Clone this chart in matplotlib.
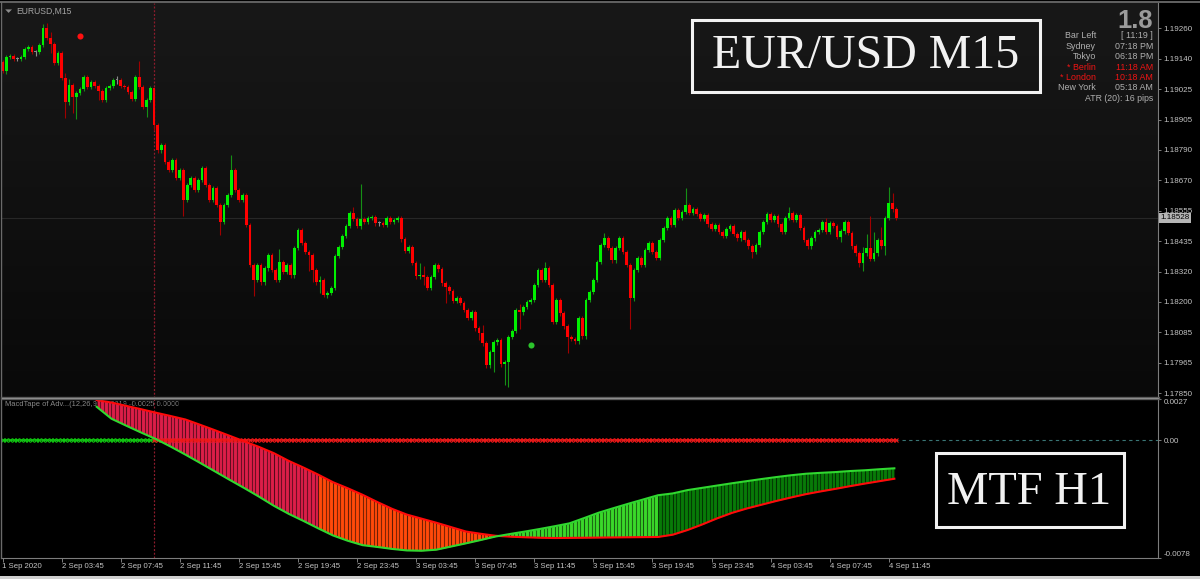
import numpy as np
import matplotlib
matplotlib.use("Agg")
import matplotlib.pyplot as plt
from matplotlib.patches import Rectangle, Polygon
from matplotlib.lines import Line2D
from matplotlib.colors import LinearSegmentedColormap

plt.rcParams['font.family'] = ['Liberation Sans', 'DejaVu Sans']

W, H = 1200, 579

# ---------------- data ----------------
# M15 candles, prices as pips above BASE; open = previous close
BASE = 1.17800
first_open = 132.9
closes = [
    129.5, 134.9, 135.3, 134.1, 134.1, 134.9, 138.0, 138.8, 136.8, 136.8,
    139.5, 146.1, 142.2, 139.9, 132.6, 136.4, 126.8, 117.5, 124.1, 119.4,
    121.0, 122.5, 127.2, 123.3, 125.2, 123.7, 121.8, 118.3, 122.9, 123.7,
    126.0, 126.0, 123.7, 123.3, 121.4, 118.7, 127.2, 123.3, 115.6, 118.3,
    122.9, 108.6, 98.9, 100.9, 94.3, 91.2, 95.1, 88.1, 91.2, 79.6,
    85.4, 88.1, 83.5, 87.4, 92.0, 85.4, 79.6, 84.3, 77.7, 71.1,
    77.7, 81.6, 91.2, 83.5, 79.6, 81.6, 70.0, 54.5, 48.7, 54.5,
    47.9, 53.3, 58.4, 52.6, 48.7, 55.7, 51.8, 54.5, 50.6, 61.1,
    68.0, 63.0, 59.5, 58.4, 52.6, 47.9, 48.7, 42.9, 43.7, 45.6,
    58.0, 61.5, 65.7, 69.6, 74.6, 72.3, 69.6, 72.3, 71.1, 72.7,
    73.1, 70.7, 70.7, 70.0, 72.7, 71.1, 71.9, 72.7, 64.5, 59.9,
    61.5, 55.3, 50.2, 50.6, 49.9, 45.6, 49.9, 54.5, 52.9, 47.5,
    46.0, 44.4, 40.6, 41.7, 39.8, 37.1, 34.0, 36.3, 30.1, 28.2,
    24.3, 15.8, 20.9, 24.7, 25.5, 16.2, 17.0, 26.7, 29.0, 37.1,
    36.3, 38.3, 40.2, 41.0, 46.8, 52.6, 48.7, 53.3, 46.8, 32.5,
    41.0, 35.9, 30.9, 26.7, 25.9, 25.1, 34.0, 27.0, 41.0, 44.1,
    48.7, 55.7, 62.2, 64.9, 61.1, 56.4, 61.1, 64.9, 59.5, 54.5,
    41.7, 52.6, 57.2, 54.5, 60.3, 63.0, 59.5, 57.2, 64.2, 68.8,
    72.7, 70.0, 75.8, 72.7, 75.0, 77.7, 74.6, 76.1, 74.2, 72.3,
    73.8, 70.3, 68.4, 70.0, 67.3, 65.7, 68.4, 69.6, 66.5, 64.9,
    67.3, 64.2, 61.8, 59.5, 62.2, 67.3, 71.1, 74.2, 71.9, 73.4,
    70.3, 67.3, 72.7, 74.6, 71.9, 73.8, 68.8, 64.2, 61.8, 64.9,
    67.3, 68.0, 71.1, 67.3, 70.7, 69.6, 65.3, 67.6, 71.1, 66.9,
    61.8, 59.1, 55.3, 59.1, 61.1, 56.8, 59.1, 64.2, 61.8, 72.7,
    78.5, 76.1, 72.8,
]
DEFAULT_WICK = 0.9
# wick length beyond the body (pips) where it differs from the default
upper_wick = {1: 0.8, 11: 1.5, 12: 2.0, 13: 2.3, 17: 2.0, 18: 2.3, 31: 1.4,
              37: 6.0, 41: 0.5, 62: 6.0, 75: 5.0, 86: 1.5, 95: 2.3, 97: 13.5,
              113: 4.6, 114: 3.5, 130: 3.0, 140: 2.3, 147: 2.3, 163: 2.0,
              185: 6.6, 213: 2.3, 223: 1.5, 233: 2.3, 234: 5.4, 235: 12.4,
              236: 8.0, 238: 5.0, 240: 6.2, 241: 3.9}
lower_wick = {1: 1.0, 9: 1.5, 13: 3.5, 17: 6.0, 18: 1.2, 19: 6.0, 20: 8.5,
              26: 3.5, 31: 1.4, 39: 4.0, 41: 2.0, 49: 6.0, 59: 5.0, 68: 6.0,
              83: 6.0, 84: 4.5, 85: 1.2, 86: 4.0, 88: 1.2, 97: 1.0, 114: 3.0,
              120: 6.0, 129: 2.7, 133: 7.7, 136: 8.0, 137: 9.7, 140: 6.6,
              153: 6.0, 170: 12.0, 203: 2.3, 227: 2.0, 232: 1.5, 233: 3.0,
              239: 3.5, 242: 0.8}

price_labels = ["1.19260", "1.19140", "1.19025", "1.18905", "1.18790", "1.18670",
                "1.18555", "1.18435", "1.18320", "1.18200", "1.18085", "1.17965",
                "1.17850"]
price_top, price_bottom = 1.19260, 1.17850
last_price = 1.18528

time_labels = ["1 Sep 2020", "2 Sep 03:45", "2 Sep 07:45", "2 Sep 11:45",
               "2 Sep 15:45", "2 Sep 19:45", "2 Sep 23:45", "3 Sep 03:45",
               "3 Sep 07:45", "3 Sep 11:45", "3 Sep 15:45", "3 Sep 19:45",
               "3 Sep 23:45", "4 Sep 03:45", "4 Sep 07:45", "4 Sep 11:45"]
TIME_STEP = 16

# MTF H1 MACD tape (units of 1e-4), one value per H1 block of 4 M15 bars
H1_START = 6
macd_h1 = [22.0, 14.1, 9.5, 5.0, 0.7, -4.3, -9.6, -15.1, -20.7, -26.3,
           -31.8, -37.5, -43.5, -48.8, -53.5, -58.4, -63.1, -66.6, -69.5, -70.7,
           -72.0, -73.0, -73.2, -72.5, -70.4, -68.3, -66.1, -63.8, -62.1, -60.5,
           -58.8, -57.0, -55.1, -51.6, -48.0, -45.0, -42.1, -39.3, -36.5, -35.3,
           -33.1, -31.6, -30.1, -28.6, -27.2, -25.8, -24.5, -23.3, -22.3, -21.7,
           -21.2, -20.5, -20.0, -19.3, -18.7]
signal_h1 = [26.4, 24.8, 22.6, 20.4, 18.1, 15.9, 13.6, 10.1, 6.5, 2.8,
             -0.9, -4.6, -8.7, -13.8, -18.2, -22.9, -27.9, -31.9, -36.2, -41.0,
             -45.5, -49.3, -52.0, -54.7, -57.6, -60.5, -62.0, -63.3, -63.9, -64.3,
             -64.6, -64.8, -64.7, -64.6, -64.5, -64.4, -64.3, -64.2, -64.1, -62.6,
             -59.5, -55.8, -51.8, -48.2, -45.3, -42.8, -40.3, -38.0, -35.8, -34.0,
             -32.3, -30.5, -28.8, -27.2, -25.6]
ind_top, ind_bottom = 0.0027, -0.0078
trend_flip_bar = 41          # H1 trend line switches from green to red
red_dot = (21, 143.1)        # (bar, pips)
green_dot = (143, 23.6)

info_rows = [("Bar Left", "[ 11:19 ]", False), ("Sydney", "07:18 PM", False),
             ("Tokyo", "06:18 PM", False), ("* Berlin", "11:18 AM", True),
             ("* London", "10:18 AM", True), ("New York", "05:18 AM", False)]

# ---------------- layout helpers ----------------
def fx(px):
    return px / W

def fy(py):
    return 1 - py / H

BAR_PX, X0_PX = 3.693, 2.5
AX_L, AX_R = 2, 1158
MAIN_T, MAIN_B = 3, 398
IND_T, IND_B = 399.2, 558
LBL_TOP_PX, LBL_BOT_PX = 28.3, 393.2
xlim = ((AX_L - X0_PX) / BAR_PX, (AX_R - X0_PX) / BAR_PX)
ppp = (price_top - price_bottom) / (LBL_BOT_PX - LBL_TOP_PX)

GRID_C = '#7c7c7c'
TXT_C = '#c4c4c4'

fig = plt.figure(figsize=(W / 100, H / 100), dpi=100, facecolor='#000000')

# ---------------- main price panel ----------------
ax = fig.add_axes([fx(AX_L), fy(MAIN_B), (AX_R - AX_L) / W, (MAIN_B - MAIN_T) / H])
ax.set_facecolor('#101010')
grad = np.linspace(0, 1, 256)[:, None]
bg = LinearSegmentedColormap.from_list('bg', ['#181818', '#090909'])
ax.imshow(grad, cmap=bg, aspect='auto', extent=(0, 1, 0, 1),
          transform=ax.transAxes, zorder=0)

n = len(closes)
idx = np.arange(n)
c = BASE + np.array(closes) / 1e4
o = np.concatenate([[BASE + first_open / 1e4], c[:-1]])
up = np.array([upper_wick.get(i, DEFAULT_WICK) for i in range(n)]) / 1e4
dn = np.array([lower_wick.get(i, DEFAULT_WICK) for i in range(n)]) / 1e4
hi = np.maximum(o, c) + up
lo = np.minimum(o, c) - dn
bull = c > o + 1e-7
bear = c < o - 1e-7
doji = ~(bull | bear)

ax.axhline(last_price, color='#272727', lw=0.8, zorder=1)
ax.axvline(trend_flip_bar, color='#8c1c2c', lw=0.9, ls=(0, (1.6, 1.4)), zorder=1)

for mask, wc, bc in [(bull, '#159015', '#00f000'), (bear, '#a00000', '#ff0000'),
                     (doji, '#8a8a8a', '#8a8a8a')]:
    ax.vlines(idx[mask], lo[mask], hi[mask], color=wc, lw=0.8, zorder=2)
    body_lo = np.minimum(o, c)[mask]
    body_h = np.maximum(np.abs(c - o)[mask], 0.35e-4)
    ax.bar(idx[mask], body_h, bottom=body_lo, width=0.74, color=bc,
           linewidth=0, zorder=3)

ax.plot(red_dot[0], BASE + red_dot[1] / 1e4, 'o', ms=4.4, color='#ff1010', mec='none', zorder=4)
ax.plot(green_dot[0], BASE + green_dot[1] / 1e4, 'o', ms=4.4, color='#2cc42c', mec='none', zorder=4)

ax.set_xlim(*xlim)
ax.set_ylim(price_top - (MAIN_B - LBL_TOP_PX) * ppp, price_top + (LBL_TOP_PX - MAIN_T) * ppp)
ax.set_xticks([])
ax.yaxis.tick_right()
ax.set_yticks(np.linspace(price_top, price_bottom, len(price_labels)))
ax.set_yticklabels(price_labels)
ax.tick_params(axis='y', direction='out', length=2.4, width=0.7, color=GRID_C,
               labelcolor=TXT_C, labelsize=5.8, pad=1.6)
for s in ['top', 'left', 'bottom']:
    ax.spines[s].set_visible(False)
ax.spines['right'].set_color(GRID_C)
ax.spines['right'].set_linewidth(0.8)

ax.text(1.0017, last_price, "1.18528", transform=ax.get_yaxis_transform(),
        ha='left', va='center', fontsize=5.8, color='#000000', clip_on=False,
        zorder=6, bbox=dict(facecolor='#b6b6b6', edgecolor='none', pad=0.9))

ax.text((16 - AX_L) / (AX_R - AX_L), 1 - (11 - MAIN_T) / (MAIN_B - MAIN_T),
        "EURUSD,M15", transform=ax.transAxes, ha='left', va='center',
        fontsize=6.2, color='#a4a4a4', zorder=5)

# ---------------- MTF MACD tape panel ----------------
ax2 = fig.add_axes([fx(AX_L), fy(IND_B), (AX_R - AX_L) / W, (IND_B - IND_T) / H])
ax2.set_facecolor('#000000')

macd_arr = np.array(macd_h1) / 1e4
sig_arr = np.array(signal_h1) / 1e4
hist = macd_arr - sig_arr
prev = np.concatenate([[0.0], hist[:-1]])
growing = np.abs(hist) >= np.abs(prev)
h1_colors = np.where(hist < 0,
                     np.where(growing, '#dc1e48', '#ff4a0a'),
                     np.where(growing, '#3ad82a', '#087a08'))
# each H1 value sits at the middle of its 4 M15 bars
xs = (np.arange(len(macd_h1)) + H1_START) * 4 + 1.5

ax2.axhline(0, color='#3a7676', lw=0.8, ls=(0, (3, 3)), zorder=1)
ax2.axvline(trend_flip_bar, color='#8c1c2c', lw=0.9, ls=(0, (1.6, 1.4)), zorder=1)
ax2.text(0.003, 1 - (405 - IND_T) / (IND_B - IND_T),
         "MacdTape of Adv...(12,26,9) -0.0019 -0.0025 0.0000",
         transform=ax2.transAxes, ha='left', va='center', fontsize=5.4,
         color='#8a8a8a', zorder=1)

for j in range(len(xs) - 1):
    ax2.fill_between(xs[j:j + 2], macd_arr[j:j + 2], sig_arr[j:j + 2],
                     color=h1_colors[j + 1], lw=0, zorder=2)
# the tape is drawn bar by bar: darker seams between the M15 bars
seams = np.arange(H1_START * 4, n) + 0.5
ax2.vlines(seams, ind_bottom, ind_top, color='#000000', alpha=0.5, lw=0.8, zorder=2.5)

zeros = np.zeros(n)
ax2.plot(idx[:trend_flip_bar + 1], zeros[:trend_flip_bar + 1], color='#10c810',
         lw=1.1, marker='x', ms=3.0, mew=0.8, zorder=3)
ax2.plot(idx[trend_flip_bar:], zeros[trend_flip_bar:], color='#f01818',
         lw=1.1, marker='x', ms=3.0, mew=0.8, zorder=3)

ax2.plot(xs, sig_arr, color='#ff0a0a', lw=1.5, zorder=4)
ax2.plot(xs, macd_arr, color='#30d830', lw=1.5, zorder=4)

ax2.set_xlim(*xlim)
ax2.set_ylim(ind_bottom, ind_top)
ax2.yaxis.tick_right()
ax2.set_yticks([ind_top, 0.0, ind_bottom])
ylabs = ax2.set_yticklabels(["0.0027", "0.00", "-0.0078"])
ylabs[0].set_va('top')
ylabs[2].set_va('bottom')
ax2.tick_params(axis='y', direction='out', length=2.4, width=0.7, color=GRID_C,
                labelcolor=TXT_C, labelsize=5.8, pad=1.6)
ax2.set_xticks(np.arange(len(time_labels)) * TIME_STEP)
xlabs = ax2.set_xticklabels(time_labels)
for t in xlabs:
    t.set_ha('left')
ax2.tick_params(axis='x', direction='out', length=2.6, width=0.7, color=GRID_C,
                labelcolor=TXT_C, labelsize=5.6, pad=1.2)
for s in ['top', 'left']:
    ax2.spines[s].set_visible(False)
for s in ['right', 'bottom']:
    ax2.spines[s].set_color(GRID_C)
    ax2.spines[s].set_linewidth(0.8)

# ---------------- frame ----------------
def fline(x0, y0, x1, y1, color, lw):
    fig.add_artist(Line2D([fx(x0), fx(x1)], [fy(y0), fy(y1)], color=color,
                          lw=lw, transform=fig.transFigure, zorder=10))

fline(0, 1.8, W, 1.8, '#6a6a6a', 1.3)
fline(1.2, 1.8, 1.2, IND_B, '#6a6a6a', 1.0)
fline(AX_L, 397.8, AX_R, 397.8, '#5c5c5c', 2.4)
fline(AX_L, 397.8, AX_R, 397.8, '#8e8e8e', 0.7)
fig.add_artist(Rectangle((0, 0), 1, 3.2 / H, transform=fig.transFigure,
                         facecolor='#cfcfcf', edgecolor='none', zorder=10))

# chart symbol triangle
fig.add_artist(Polygon([(fx(5.2), fy(9.4)), (fx(12), fy(9.4)), (fx(8.6), fy(12.9))],
                       closed=True, transform=fig.transFigure, facecolor='#8c8c8c',
                       edgecolor='none', zorder=10))

# ---------------- info panel ----------------
fig.text(fx(1153.3), fy(28.3), "1.8", ha='right', va='baseline', fontsize=18.4,
         fontweight='bold', color='#9a9a9a', zorder=11)
for r, (lab, val, hot) in enumerate(info_rows):
    col = '#f01414' if hot else '#b0b0b0'
    yy = fy(36 + r * 10.4)
    fig.text(fx(1096), yy, lab, ha='right', va='center', fontsize=6.4, color=col, zorder=11)
    fig.text(fx(1153.3), yy, val, ha='right', va='center', fontsize=6.4, color=col, zorder=11)
fig.text(fx(1153.3), fy(98.3), "ATR (20): 16 pips", ha='right', va='center',
         fontsize=6.3, color='#b0b0b0', zorder=11)

# ---------------- caption boxes ----------------
fig.add_artist(Rectangle((fx(692), fy(92)), (1040 - 692) / W, (92 - 20) / H,
                         transform=fig.transFigure, fill=False, edgecolor='#f2f2f2',
                         lw=2.2, zorder=11))
fig.text(fx(866), fy(68.3), "EUR/USD M15", ha='center', va='baseline',
         fontsize=34.5, family='Liberation Serif', color='#f2f2f2', zorder=12)
fig.add_artist(Rectangle((fx(936), fy(527)), (1124 - 936) / W, (527 - 453) / H,
                         transform=fig.transFigure, fill=False, edgecolor='#f2f2f2',
                         lw=2.2, zorder=11))
fig.text(fx(1029), fy(504.3), "MTF H1", ha='center', va='baseline',
         fontsize=33.5, family='Liberation Serif', color='#f2f2f2', zorder=12)

fig.savefig('out.png', dpi=100, facecolor=fig.get_facecolor())
